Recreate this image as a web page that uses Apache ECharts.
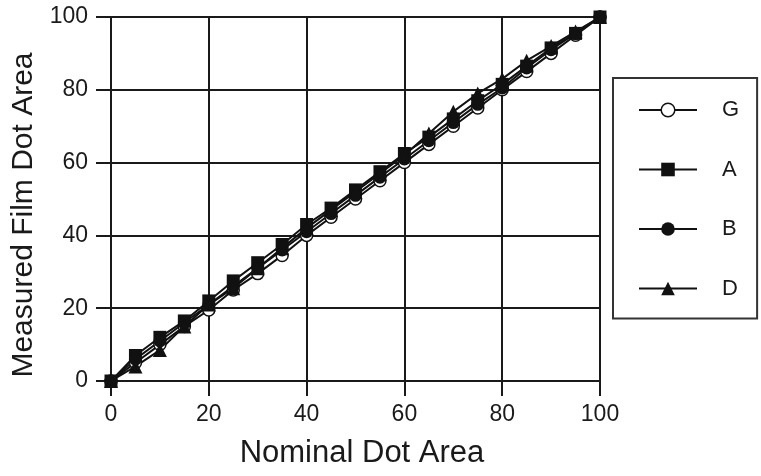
<!DOCTYPE html>
<html>
<head>
<meta charset="utf-8">
<script src="https://cdn.jsdelivr.net/npm/echarts@6/dist/echarts.min.js"></script>
<style>
  html, body { margin: 0; padding: 0; background: #fff; }
  #chart { width: 761px; height: 476px; }
</style>
</head>
<body>
<div id="chart"></div>
<script>
  // nominal dot area (x)
  var nominal = [0, 5, 10, 15, 20, 25, 30, 35, 40, 45, 50, 55, 60, 65, 70, 75, 80, 85, 90, 95, 100];
  // measured film dot area per film
  var valuesG = [0, 5, 10, 15, 19.5, 25, 29.5, 34.5, 40, 45, 50, 55, 60, 65, 70, 75, 80, 85, 90, 95, 100];
  var valuesA = [0, 7, 12, 16.5, 22, 27.5, 32.5, 37.5, 43, 47.5, 52.5, 57.5, 62.5, 67, 72, 77, 81.5, 86.5, 91.5, 95.5, 100];
  var valuesB = [0, 6, 11, 16, 21, 26, 31, 36, 41, 46, 51, 56, 61, 66, 71, 76, 80.5, 86, 91, 95.5, 100];
  var valuesD = [0, 4, 8.5, 15, 21, 25.5, 31, 36.5, 42, 47, 52, 57, 62, 68, 74, 79, 83, 88, 92, 96, 100];
  var tickLabels = ['0', '20', '40', '60', '80', '100'];

  function pairs(ys) {
    var out = [];
    for (var i = 0; i < nominal.length; i++) {
      out.push([nominal[i], ys[i]]);
    }
    return out;
  }

  function lineSeries(name, ys, symbol, size) {
    var hollow = symbol === 'hollow';
    return {
      name: name,
      type: 'line',
      data: pairs(ys),
      symbol: hollow ? 'circle' : symbol,
      symbolSize: size,
      lineStyle: { color: '#111', width: 2 },
      itemStyle: {
        color: hollow ? '#fff' : '#111',
        borderColor: '#111',
        borderWidth: hollow ? 1.5 : 0
      },
      z: 3
    };
  }

  var chart = echarts.init(document.getElementById('chart'));
  var font = 'Liberation Sans, Arial, sans-serif';
  var ink = '#1a1a1a';

  chart.setOption({
    animation: false,
    grid: { left: 111, right: 161, top: 17, bottom: 95 },
    legend: {
      orient: 'vertical',
      left: 613,
      top: 78,
      padding: [21, 18, 19, 25],
      itemWidth: 58,
      itemHeight: 17,
      itemGap: 37.5,
      borderColor: '#333',
      borderWidth: 2,
      textStyle: { fontFamily: font, fontSize: 22, color: ink, padding: [0, 0, 0, 20] },
      data: [
        { name: 'G', itemStyle: { color: '#fff', borderColor: '#111', borderWidth: 1.5 } },
        'A', 'B', 'D'
      ]
    },
    xAxis: {
      type: 'value',
      min: 0, max: 100, interval: 20,
      name: 'Nominal Dot Area',
      nameLocation: 'middle',
      nameGap: 57,
      nameTextStyle: { fontFamily: font, fontSize: 31, color: ink, padding: [0, 0, 0, 13] },
      axisLine: { show: true, onZero: false, lineStyle: { color: ink, width: 2 } },
      axisTick: { show: true, length: 15, lineStyle: { color: ink, width: 2 } },
      axisLabel: {
        fontFamily: font, fontSize: 23, color: ink, margin: 22,
        formatter: function (v) { return tickLabels[v / 20]; }
      },
      splitLine: { show: true, lineStyle: { color: ink, width: 2 } }
    },
    yAxis: {
      type: 'value',
      min: 0, max: 100, interval: 20,
      name: 'Measured Film Dot Area',
      nameLocation: 'middle',
      nameGap: 70,
      nameTextStyle: { fontFamily: font, fontSize: 30, color: ink, padding: [0, 32, 0, 0] },
      axisLine: { show: true, onZero: false, lineStyle: { color: ink, width: 2 } },
      axisTick: { show: true, length: 15, lineStyle: { color: ink, width: 2 } },
      axisLabel: {
        fontFamily: font, fontSize: 23, color: ink, margin: 23,
        formatter: function (v) { return tickLabels[v / 20]; }
      },
      splitLine: { show: true, lineStyle: { color: ink, width: 2 } }
    },
    series: [
      lineSeries('G', valuesG, 'hollow', 12),
      lineSeries('A', valuesA, 'rect', 13),
      lineSeries('B', valuesB, 'circle', 13),
      lineSeries('D', valuesD, 'triangle', 14)
    ]
  });
</script>
</body>
</html>
